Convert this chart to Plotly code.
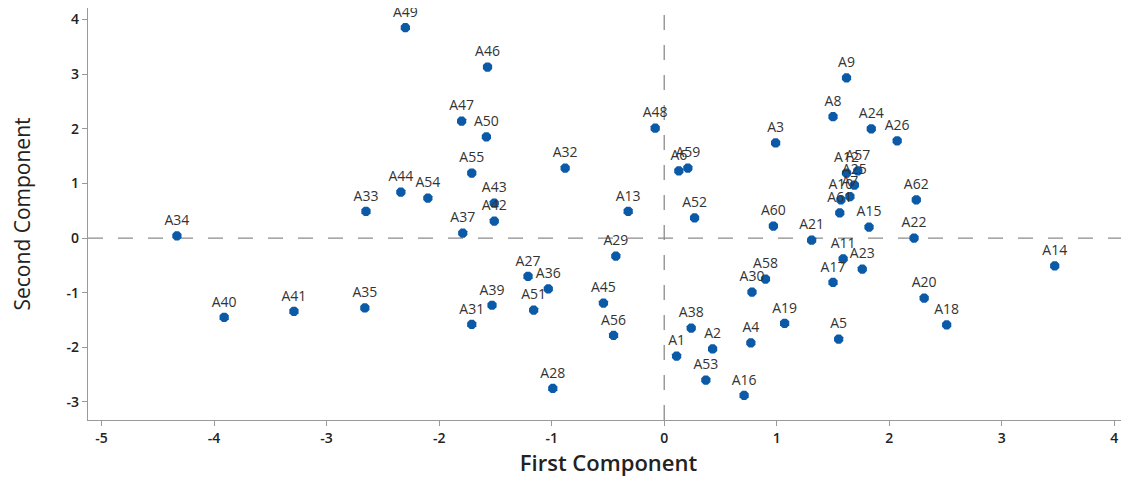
import plotly.graph_objects as go

labels = ["A49","A46","A47","A50","A48","A32","A55","A44","A54","A33","A43","A42","A37","A34",
          "A13","A29","A27","A36","A39","A51","A45","A31","A56","A28","A40","A41","A35",
          "A1","A38","A2","A53","A16","A4","A19","A5","A30","A58","A17","A11","A23","A20","A18",
          "A14","A22","A21","A60","A15","A62","A52","A6","A59","A3","A8","A9","A24","A26",
          "A12","A57","A25","A10","A7","A61"]
first_comp = [-2.30,-1.57,-1.80,-1.58,-0.08,-0.88,-1.71,-2.34,-2.10,-2.65,-1.51,-1.51,-1.79,-4.33,
              -0.32,-0.43,-1.21,-1.03,-1.53,-1.16,-0.54,-1.71,-0.45,-0.99,-3.91,-3.29,-2.66,
              0.11,0.24,0.43,0.37,0.71,0.77,1.07,1.55,0.78,0.90,1.50,1.59,1.76,2.31,2.51,
              3.47,2.22,1.31,0.97,1.82,2.24,0.27,0.13,0.21,0.99,1.50,1.62,1.84,2.07,
              1.62,1.72,1.69,1.57,1.65,1.56]
second_comp = [3.85,3.13,2.14,1.85,2.01,1.28,1.19,0.84,0.73,0.49,0.64,0.31,0.09,0.04,
               0.49,-0.33,-0.70,-0.93,-1.23,-1.32,-1.19,-1.58,-1.78,-2.75,-1.45,-1.34,-1.28,
               -2.16,-1.65,-2.03,-2.60,-2.88,-1.92,-1.56,-1.85,-0.99,-0.75,-0.81,-0.38,-0.57,-1.10,-1.59,
               -0.51,0.00,-0.04,0.22,0.20,0.70,0.37,1.23,1.28,1.74,2.22,2.93,2.00,1.78,
               1.19,1.23,0.97,0.70,0.76,0.46]

x_ticks = [-5,-4,-3,-2,-1,0,1,2,3,4]
x_ticktext = ["-5","-4","-3","-2","-1","0","1","2","3","4"]
y_ticks = [-3,-2,-1,0,1,2,3,4]
y_ticktext = ["-3","-2","-1","0","1","2","3","4"]

fig = go.Figure()
fig.add_trace(go.Scatter(
    x=first_comp, y=second_comp, mode="markers+text", text=labels,
    textposition="top center",
    textfont=dict(family="Open Sans, sans-serif", size=14, color="#333333"),
    marker=dict(symbol="octagon", size=10, color="#0b5aa8"),
    cliponaxis=False, showlegend=False))

fig.add_shape(type="line", xref="x", yref="paper", x0=0, x1=0, y0=0, y1=1,
              line=dict(color="#8c8c8c", width=1.3, dash="longdash"), layer="below")
fig.add_shape(type="line", xref="paper", yref="y", x0=0, x1=1, y0=0, y1=0,
              line=dict(color="#8c8c8c", width=1.3, dash="longdash"), layer="below")

axis_common = dict(showgrid=False, zeroline=False, showline=True, linecolor="#9a9a9a",
                   linewidth=1.3, ticks="outside", ticklen=5, tickcolor="#9a9a9a",
                   automargin=False,
                   tickfont=dict(family="Open Sans, sans-serif", size=14, color="#222222",
                                 weight=600))
fig.update_xaxes(range=[-5.12, 4.13], tickvals=x_ticks, ticktext=x_ticktext,
                 title=dict(text="First Component", standoff=6,
                            font=dict(family="Open Sans, sans-serif", size=22, color="#222222",
                                      weight=600)),
                 **axis_common)
fig.update_yaxes(range=[-3.33, 4.21], tickvals=y_ticks, ticktext=y_ticktext,
                 title=dict(text="Second Component", standoff=34,
                            font=dict(family="Open Sans, sans-serif", size=21, color="#222222",
                                      weight=500)),
                 **axis_common)
fig.update_layout(width=1129, height=477, margin=dict(l=80, r=8, t=0, b=65),
                  plot_bgcolor="white", paper_bgcolor="white")
fig.write_html("out.html")
